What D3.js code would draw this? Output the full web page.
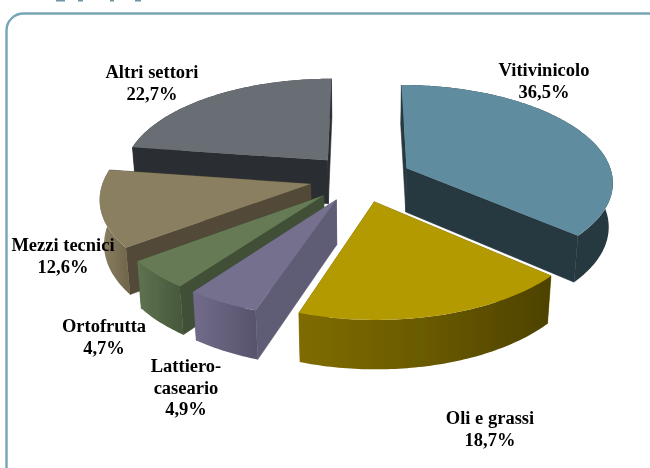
<!DOCTYPE html>
<html><head><meta charset="utf-8">
<script src="https://cdn.jsdelivr.net/npm/d3@7/dist/d3.min.js"></script>
<style>html,body{margin:0;padding:0;background:#fff;overflow:hidden}svg{display:block}</style>
</head><body><svg id="c" width="650" height="468"></svg>
<script>
const categories = ["Vitivinicolo","Oli e grassi","Lattiero-caseario","Ortofrutta","Mezzi tecnici","Altri settori"];
const values = [36.5,18.7,4.9,4.7,12.6,22.7];
const percentLabels = ["36,5%","18,7%","4,9%","4,7%","12,6%","22,7%"];

const topColors  = ["#5f8c9e","#b39a04","#76708f","#667a55","#8a7f60","#696e74"];
const edgeColors = ["#26373f","#7d6a00","#5f5b75","#3f5035","#534a37","#2c2f33"];
const rimFrom    = ["#26373f","#4d4200","#57536c","#46573a","#6e6449","#2c2f33"];
const rimTo      = ["#26373f","#7f6c00","#716c8a","#5f7350","#8c8163","#2c2f33"];
const labelLines = [["Vitivinicolo","36,5%"],["Oli e grassi","18,7%"],["Lattiero-","caseario","4,9%"],["Ortofrutta","4,7%"],["Mezzi tecnici","12,6%"],["Altri settori","22,7%"]];
const labelX = [544,490,186,104,63,152];
const labelY = [76,424,372,332,251,78];
const paintOrder = [5,0,4,3,2,1];

const CX=360.5, CY=178, S=206.5, el=27.8*Math.PI/180, D=6.9, EXPLODE=0.248, H=0.245;
const svg=d3.select("#c");
const defs=svg.append("defs");
defs.append("filter").attr("id","soft").attr("x","-5%").attr("y","-5%").attr("width","110%").attr("height","110%")
  .append("feGaussianBlur").attr("stdDeviation",0.45);

const root=svg.append("g").attr("filter","url(#soft)");
root.append("rect").attr("x",6.5).attr("y",13.5).attr("width",660).attr("height",470).attr("rx",17)
  .attr("fill","#fff").attr("stroke","#75a6b6").attr("stroke-width",2.4);

// fragments of a title cropped by the top of the picture
root.selectAll("rect.frag").data([[56,9],[78,5],[110,4],[135,6]]).join("rect").attr("class","frag")
  .attr("x",d=>d[0]).attr("y",0).attr("width",d=>d[1]).attr("height",1.5).attr("fill","#6f93a6");

const arcs=d3.pie().sort(null).value(d=>d)(values);
const sE=Math.sin(el), cE=Math.cos(el);
function project(X,Y,Z){
  const w=1+(Y*cE-Z*sE)/D;
  return [CX+S*X/w, CY-S*(Y*sE+Z*cE)/w];
}
const line=d3.line();
function pointAt(a,r,t,z){
  const m=(a.startAngle+a.endAngle)/2;
  return project(r*Math.sin(t)+EXPLODE*Math.sin(m), r*Math.cos(t)+EXPLODE*Math.cos(m), z);
}
function rim(a,z){
  const n=Math.max(8,Math.round((a.endAngle-a.startAngle)*60));
  return d3.range(n+1).map(i=>pointAt(a,1,a.startAngle+(a.endAngle-a.startAngle)*i/n,z));
}
paintOrder.forEach(i=>{
  const a=arcs[i];
  const g=root.append("g").attr("class","slice");
  const gid="rim"+i;
  const top=rim(a,0), bot=rim(a,-H);
  const xs=top.concat(bot).map(p=>p[0]);
  const lg=defs.append("linearGradient").attr("id",gid).attr("gradientUnits","userSpaceOnUse")
    .attr("x1",d3.min(xs)).attr("x2",d3.max(xs)).attr("y1",0).attr("y2",0);
  lg.append("stop").attr("offset",0).attr("stop-color",rimTo[i]);
  if(i===1){ lg.append("stop").attr("offset",0.5).attr("stop-color","#6a5a00"); }
  lg.append("stop").attr("offset",1).attr("stop-color",rimFrom[i]);

  [a.startAngle,a.endAngle].forEach(t=>{
    const pts=[pointAt(a,0,t,0),pointAt(a,1,t,0),pointAt(a,1,t,-H),pointAt(a,0,t,-H)];
    g.append("path").attr("d",line(pts)+"Z").attr("fill",edgeColors[i]).attr("stroke",edgeColors[i]).attr("stroke-width",0.6);
  });
  g.append("path").attr("d",line(top.concat(bot.slice().reverse()))+"Z").attr("fill",`url(#${gid})`);
  g.append("path").attr("d",line([pointAt(a,0,a.startAngle,0)].concat(top))+"Z").attr("fill",topColors[i]);
});

labelLines.forEach((ls,i)=>{
  const t=root.append("text").attr("text-anchor","middle")
    .attr("font-family","'Liberation Serif',serif").attr("font-weight","bold").attr("font-size",18.5).attr("fill","#000");
  ls.forEach((s,j)=>t.append("tspan").attr("x",labelX[i]).attr("y",labelY[i]+j*21.7).text(s));
});
</script></body></html>
